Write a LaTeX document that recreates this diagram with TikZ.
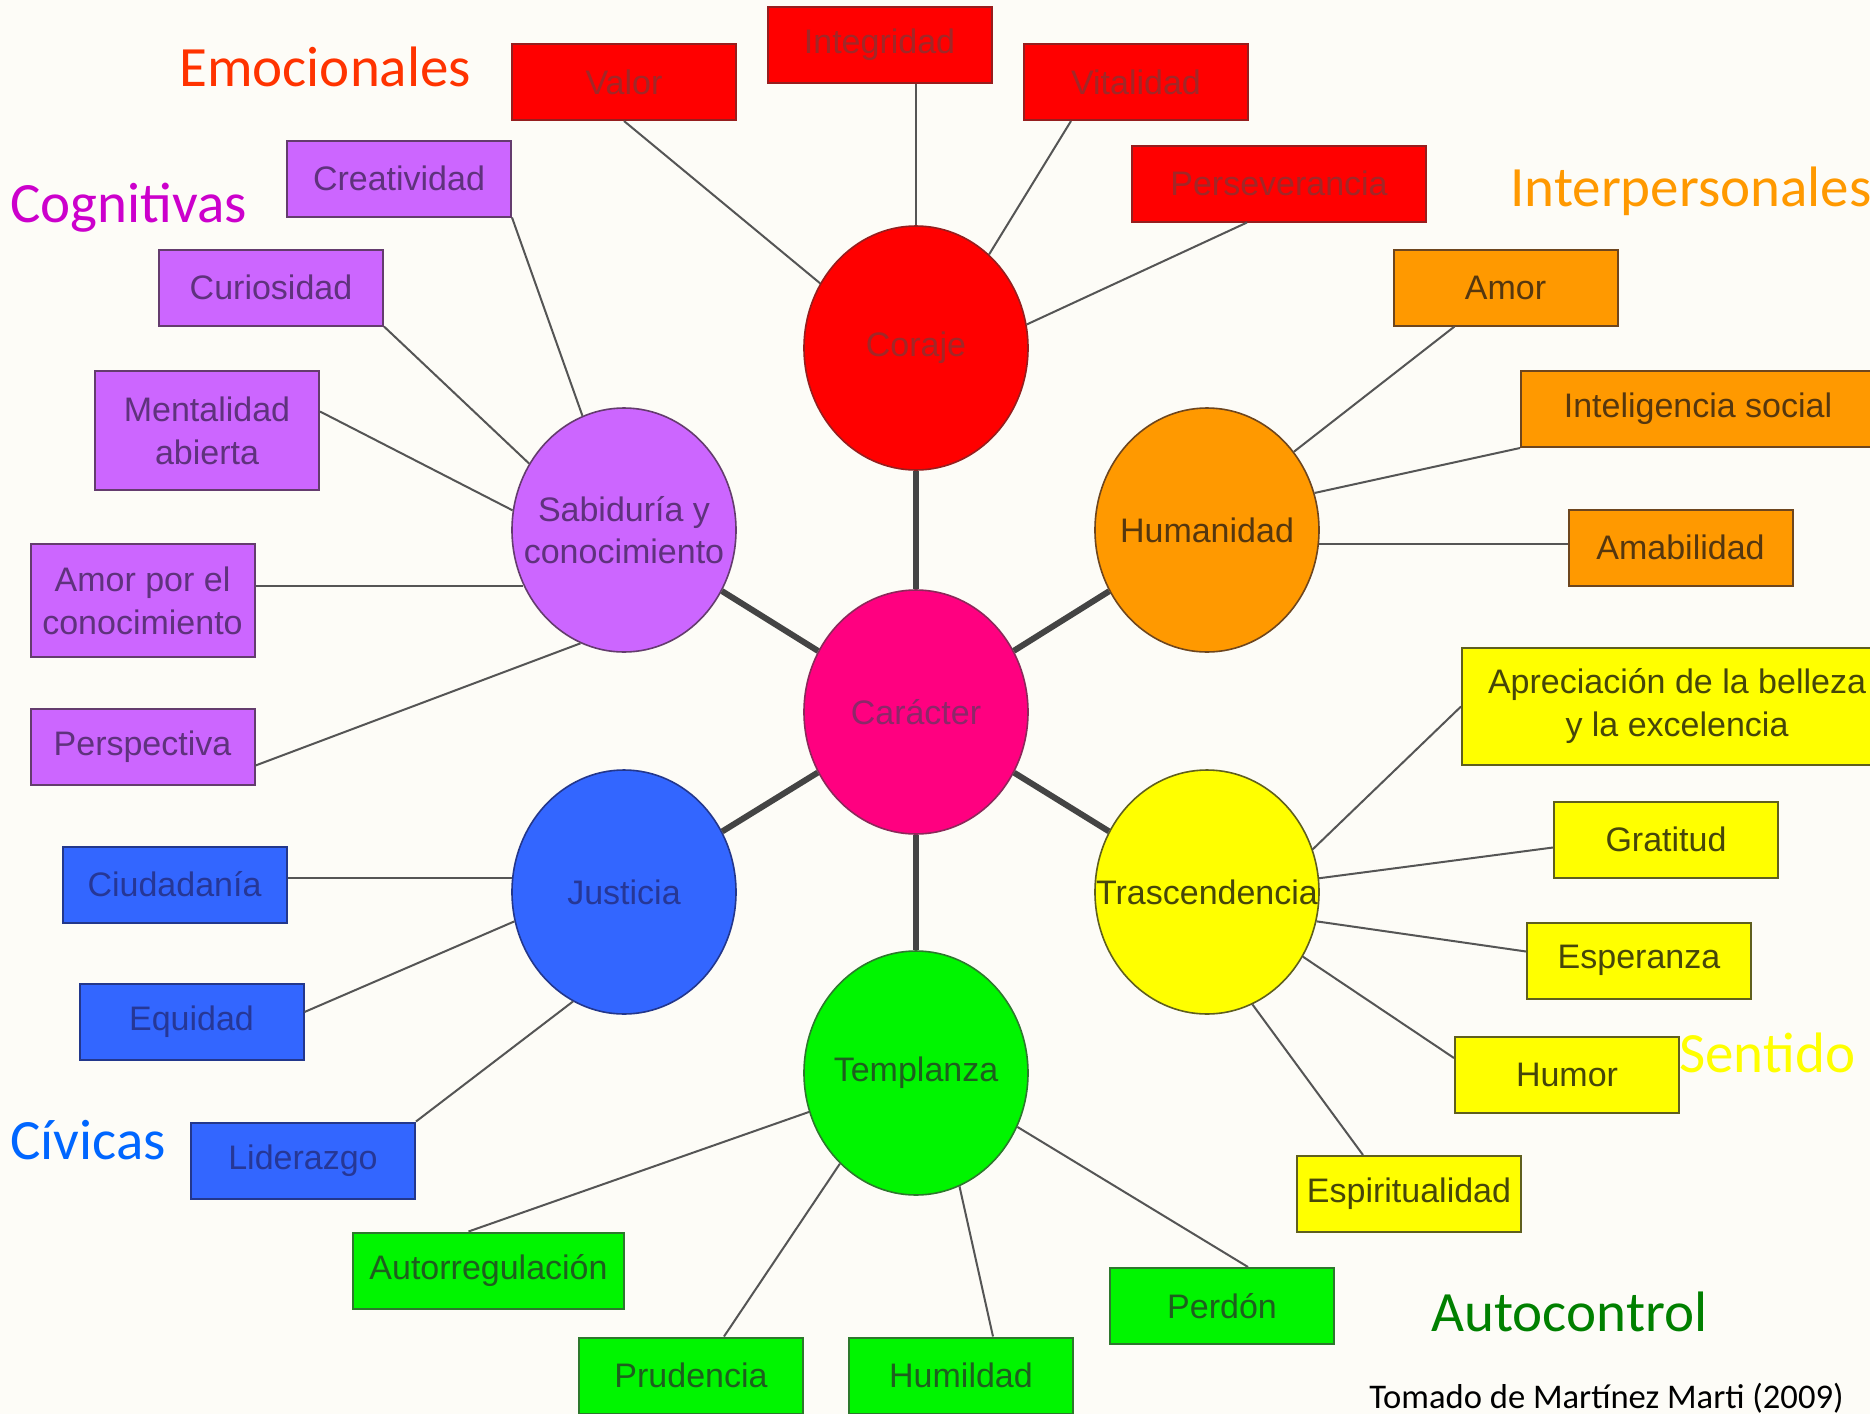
\documentclass[tikz,border=0pt]{standalone}
\usepackage{fontspec}
\setmainfont{Liberation Sans}
\newfontfamily\labfont{Carlito}
\usetikzlibrary{shapes.geometric,calc}
\definecolor{bgc}{RGB}{253,252,247}
\definecolor{linec}{RGB}{85,85,85}
\definecolor{spokec}{RGB}{68,68,68}
% red
\definecolor{cRed}{RGB}{255,0,0}
\definecolor{cRedB}{RGB}{150,30,30}
\definecolor{cRedT}{RGB}{160,40,40}
% purple
\definecolor{cPur}{RGB}{204,102,255}
\definecolor{cPurB}{RGB}{100,60,110}
\definecolor{cPurT}{RGB}{95,50,125}
% orange
\definecolor{cOra}{RGB}{255,153,0}
\definecolor{cOraB}{RGB}{110,70,30}
\definecolor{cOraT}{RGB}{85,55,15}
% yellow
\definecolor{cYel}{RGB}{255,255,0}
\definecolor{cYelB}{RGB}{95,95,30}
\definecolor{cYelT}{RGB}{70,70,10}
% green
\definecolor{cGre}{RGB}{0,245,0}
\definecolor{cGreB}{RGB}{45,120,45}
\definecolor{cGreT}{RGB}{30,95,30}
% blue
\definecolor{cBlu}{RGB}{51,102,255}
\definecolor{cBluB}{RGB}{35,55,140}
\definecolor{cBluT}{RGB}{38,55,150}
% pink
\definecolor{cPin}{RGB}{255,0,128}
\definecolor{cPinB}{RGB}{140,40,90}
\definecolor{cPinT}{RGB}{140,40,105}
% labels
\definecolor{lEmo}{RGB}{255,51,0}
\definecolor{lCog}{RGB}{204,0,204}
\definecolor{lInt}{RGB}{255,153,0}
\definecolor{lCiv}{RGB}{0,102,255}
\definecolor{lSen}{RGB}{255,255,0}
\definecolor{lAut}{RGB}{0,128,0}
\tikzset{
  box/.style={rectangle, draw, line width=1pt, minimum width=112pt, minimum height=38pt,
    inner sep=0pt, align=center, font=\fontsize{17}{21.5}\selectfont},
  redbox/.style={box, fill=cRed, draw=cRedB, text=cRedT},
  purbox/.style={box, fill=cPur, draw=cPurB, text=cPurT},
  orabox/.style={box, fill=cOra, draw=cOraB, text=cOraT},
  yelbox/.style={box, fill=cYel, draw=cYelB, text=cYelT},
  grebox/.style={box, fill=cGre, draw=cGreB, text=cGreT},
  blubox/.style={box, fill=cBlu, draw=cBluB, text=cBluT},
  circ/.style={ellipse, draw, line width=0.8pt, minimum width=112pt, minimum height=122pt, inner sep=0pt},
  ctext/.style={align=center, inner sep=0pt, font=\fontsize{17}{21}\selectfont},
  thinline/.style={line width=1pt, draw=linec},
  spoke/.style={line width=3pt, draw=spokec},
  lab/.style={anchor=base west, inner sep=0pt, font=\labfont\fontsize{28.5}{32}\selectfont},
}
\begin{document}
\begin{tikzpicture}[x=0.5pt,y=-0.5pt]
\useasboundingbox (0,0) rectangle (1870,1414);
\clip (0,0) rectangle (1870,1414);
\fill[bgc] (0,0) rectangle (1870,1414);

% circles
\node[circ, fill=cRed, draw=cRedB, label={[ctext,text=cRedT]center:Coraje}] (coraje) at (916,348) {};
\node[circ, fill=cPur, draw=cPurB, label={[ctext,text=cPurT]center:Sabiduría y\\conocimiento}] (sabid) at (624,530) {};
\node[circ, fill=cOra, draw=cOraB, label={[ctext,text=cOraT]center:Humanidad}] (human) at (1207,530) {};
\node[circ, fill=cPin, draw=cPinB, label={[ctext,text=cPinT]center:Carácter}] (carac) at (916,712) {};
\node[circ, fill=cBlu, draw=cBluB, label={[ctext,text=cBluT]center:Justicia}] (justi) at (624,892) {};
\node[circ, fill=cYel, draw=cYelB, label={[ctext,text=cYelT]center:Trascendencia}] (trasc) at (1207,892) {};
\node[circ, fill=cGre, draw=cGreB, label={[ctext,text=cGreT]center:Templanza}] (templ) at (916,1073) {};

% boxes
\node[redbox] (valor) at (624,82) {Valor};
\node[redbox] (integ) at (879.5,45) {Integridad};
\node[redbox] (vital) at (1136,82) {Vitalidad};
\node[redbox, minimum width=147pt] (perse) at (1279,183.5) {Perseverancia};
\node[purbox] (creat) at (399,178.5) {Creatividad};
\node[purbox] (curio) at (271,287.5) {Curiosidad};
\node[purbox, minimum height=59.5pt] (menta) at (207,430.5) {Mentalidad\\abierta};
\node[purbox, minimum height=56.5pt] (amorc) at (142.5,600.5) {Amor por el\\conocimiento};
\node[purbox] (persp) at (142.5,746.5) {Perspectiva};
\node[blubox] (ciuda) at (174.5,884.5) {Ciudadanía};
\node[blubox] (equid) at (191.5,1022) {Equidad};
\node[blubox] (lider) at (303,1160.5) {Liderazgo};
\node[grebox, minimum width=135.5pt] (autor) at (488.5,1270.5) {Autorregulación};
\node[grebox] (prude) at (691,1375.5) {Prudencia};
\node[grebox] (humil) at (961,1375.5) {Humildad};
\node[grebox] (perdo) at (1222,1306) {Perdón};
\node[yelbox] (espir) at (1409,1194) {Espiritualidad};
\node[yelbox] (humor) at (1567,1075) {Humor};
\node[yelbox] (esper) at (1639,960.5) {Esperanza};
\node[yelbox] (grati) at (1666,839.5) {Gratitud};
\node[yelbox, minimum width=215pt, minimum height=58.5pt] (aprec) at (1677,706.5) {Apreciación de la belleza\\y la excelencia};
\node[orabox] (amabi) at (1680.5,547.5) {Amabilidad};
\node[orabox, minimum width=177pt] (intel) at (1698,409) {Inteligencia social};
\node[orabox] (amor) at (1505.5,287.5) {Amor};

% spokes
\draw[spoke] (carac) -- (coraje);
\draw[spoke] (carac) -- (sabid);
\draw[spoke] (carac) -- (human);
\draw[spoke] (carac) -- (justi);
\draw[spoke] (carac) -- (trasc);
\draw[spoke] (carac) -- (templ);

% thin connectors
\draw[thinline] (valor.south) -- (coraje.146);
\draw[thinline] (coraje.north |- integ.south) -- (coraje.north);
\draw[thinline] ($(vital.south)+(-65,0)$) -- (coraje.52);
\draw[thinline] ($(perse.south)+(-32,0)$) -- (coraje.12);
\draw[thinline] (creat.south east) -- (sabid.110);
\draw[thinline] (curio.south east) -- (sabid.145);
\draw[thinline] ($(menta.east)+(0,-19)$) -- (sabid.170);
\draw[thinline] (amorc.east |- sabid.209) -- (sabid.209);
\draw[thinline] ($(persp.east)+(0,19)$) -- (sabid.249);
\draw[thinline] (ciuda.east |- justi.173) -- (justi.173);
\draw[thinline] ($(equid.east)+(0,-10)$) -- (justi.195);
\draw[thinline] (lider.north east) -- (justi.245);
\draw[thinline] ($(autor.north)+(-20,0)$) -- (templ.200);
\draw[thinline] ($(prude.north)+(33,0)$) -- (templ.230);
\draw[thinline] ($(humil.north)+(32,0)$) -- (templ.291);
\draw[thinline] ($(perdo.north)+(26,0)$) -- (templ.332);
\draw[thinline] ($(espir.north)+(-46,0)$) -- (trasc.292);
\draw[thinline] ($(humor.west)+(0,-17)$) -- (trasc.326);
\draw[thinline] ($(esper.west)+(0,-9)$) -- (trasc.345);
\draw[thinline] ($(grati.west)+(0,8)$) -- (trasc.7);
\draw[thinline] (aprec.west) -- (trasc.22);
\draw[thinline] (amabi.west |- human.353) -- (human.353);
\draw[thinline] (intel.south west) -- (human.19);
\draw[thinline] ($(amor.south)+(-51,0)$) -- (human.42);

% category labels
\node[lab, text=lEmo] (lemo) at (179,86) {Emocionales};
\node[lab, text=lCog] (lcog) at (10,222) {Cognitivas};
\node[lab, text=lInt] (lint) at (1510,206) {Interpersonales};
\node[lab, text=lCiv] (lciv) at (10,1159) {Cívicas};
\node[lab, text=lSen] (lsen) at (1679,1072) {Sentido};
\node[lab, text=lAut] (laut) at (1431,1331) {Autocontrol};
\node[lab, font=\labfont\fontsize{17.3}{20}\selectfont] (src) at (1369,1408) {Tomado de Martínez Marti (2009)};
\end{tikzpicture}
\end{document}
